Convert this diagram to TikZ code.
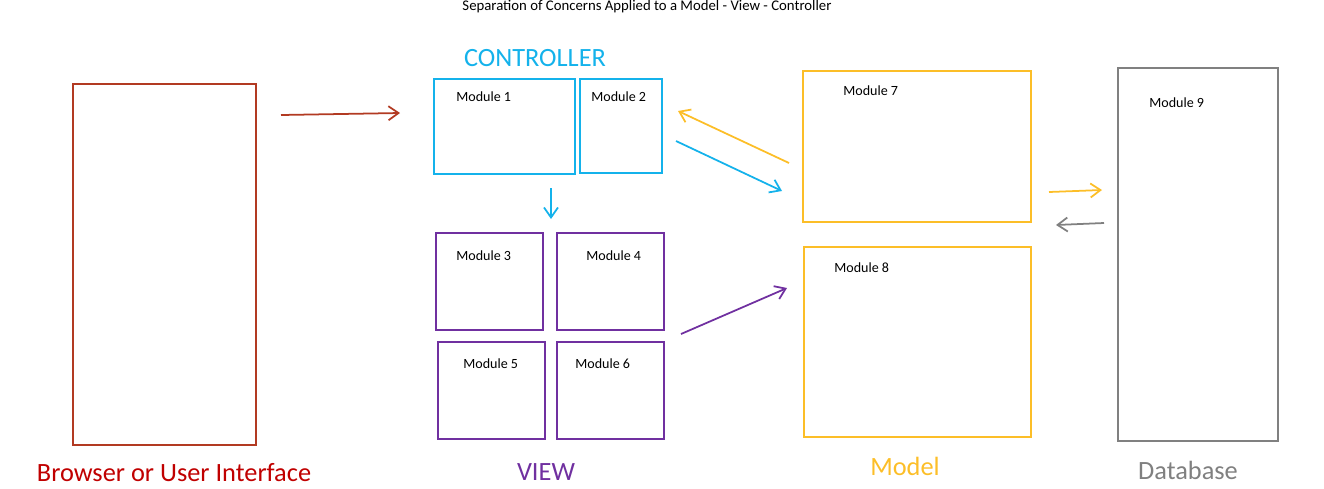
\documentclass[tikz,border=0pt]{standalone}
\usepackage{fontspec}
\setmainfont{Carlito}
\usepackage{xcolor}
\usetikzlibrary{arrows.meta}
\tikzset{>={Straight Barb[length=2mm,width=2.8mm]}}
\definecolor{uibrown}{RGB}{178,58,34}
\definecolor{uired}{RGB}{192,0,0}
\definecolor{ctrlblue}{RGB}{20,178,235}
\definecolor{viewpurple}{RGB}{112,48,160}
\definecolor{modelgold}{RGB}{252,190,40}
\definecolor{dbgrey}{RGB}{128,128,128}
\tikzstyle{box}=[draw,line width=1pt,inner sep=0pt,anchor=north west]
\tikzstyle{modname}=[anchor=west,inner sep=0pt,font=\fontsize{8}{10}\selectfont]
\tikzstyle{bigname}=[inner sep=0pt,font=\fontsize{15}{18}\selectfont]
\tikzstyle{flow}=[->,line width=1pt]

\begin{document}
\begin{tikzpicture}[x=0.02cm,y=-0.02cm]

  % page
  \useasboundingbox (0,0) rectangle (1324,488);

  % title
  \node[inner sep=0pt,font=\fontsize{8.4}{10}\selectfont] (title) at (647,7)
    {Separation of Concerns Applied to a Model - View - Controller};

  % browser
  \node[box,uibrown,minimum width=183*0.02cm,minimum height=361*0.02cm] (ui) at (72,83) {};
  \node[bigname,uired] (uiname) at (174,473) {Browser or User Interface};

  % controller
  \node[bigname,ctrlblue] (ctrlname) at (535,58) {CONTROLLER};
  \node[box,ctrlblue,minimum width=141*0.02cm,minimum height=95*0.02cm] (m1) at (433,78) {};
  \node[box,ctrlblue,minimum width=82*0.02cm,minimum height=94*0.02cm] (m2) at (579,78) {};
  \node[modname] (m1name) at (456,97) {Module 1};
  \node[modname] (m2name) at (591,97) {Module 2};

  % view
  \node[box,viewpurple,minimum width=107*0.02cm,minimum height=97*0.02cm] (m3) at (435,232) {};
  \node[box,viewpurple,minimum width=107*0.02cm,minimum height=97*0.02cm] (m4) at (556,232) {};
  \node[box,viewpurple,minimum width=107*0.02cm,minimum height=97*0.02cm] (m5) at (437,341) {};
  \node[box,viewpurple,minimum width=107*0.02cm,minimum height=97*0.02cm] (m6) at (556,341) {};
  \node[modname] (m3name) at (456,256) {Module 3};
  \node[modname] (m4name) at (586,256) {Module 4};
  \node[modname] (m5name) at (463,364) {Module 5};
  \node[modname] (m6name) at (575,364) {Module 6};
  \node[bigname,viewpurple] (viewname) at (546,472) {VIEW};

  % model
  \node[box,modelgold,minimum width=228*0.02cm,minimum height=151*0.02cm] (m7) at (802,70) {};
  \node[box,modelgold,minimum width=227*0.02cm,minimum height=190*0.02cm] (m8) at (803,246) {};
  \node[modname] (m7name) at (843,91) {Module 7};
  \node[modname] (m8name) at (834,268) {Module 8};
  \node[bigname,modelgold] (modelname) at (905,466) {Model};

  % database
  \node[box,dbgrey,minimum width=160*0.02cm,minimum height=373*0.02cm] (m9) at (1117,67) {};
  \node[modname] (m9name) at (1149,103) {Module 9};
  \node[bigname,dbgrey] (dbname) at (1188,470) {Database};

  % arrow ends
  \coordinate (uiout) at (281,115);
  \coordinate (ctrlin) at (400,113);
  \coordinate (ctrldown) at (551,188);
  \coordinate (viewin) at (551,219);
  \coordinate (modelup) at (789,163);
  \coordinate (ctrlback) at (678,111);
  \coordinate (ctrlout) at (676,141);
  \coordinate (modelin) at (782,191);
  \coordinate (viewout) at (681,334);
  \coordinate (modelview) at (787,288);
  \coordinate (modelout) at (1049,192);
  \coordinate (dbin) at (1102,190);
  \coordinate (dbout) at (1104,223);
  \coordinate (modelback) at (1056,225);

  % arrows
  \draw[flow,uibrown] (uiout) -- (ctrlin);
  \draw[flow,ctrlblue] (ctrldown) -- (viewin);
  \draw[flow,modelgold] (modelup) -- (ctrlback);
  \draw[flow,ctrlblue] (ctrlout) -- (modelin);
  \draw[flow,viewpurple] (viewout) -- (modelview);
  \draw[flow,modelgold] (modelout) -- (dbin);
  \draw[flow,dbgrey] (dbout) -- (modelback);

\end{tikzpicture}
\end{document}
